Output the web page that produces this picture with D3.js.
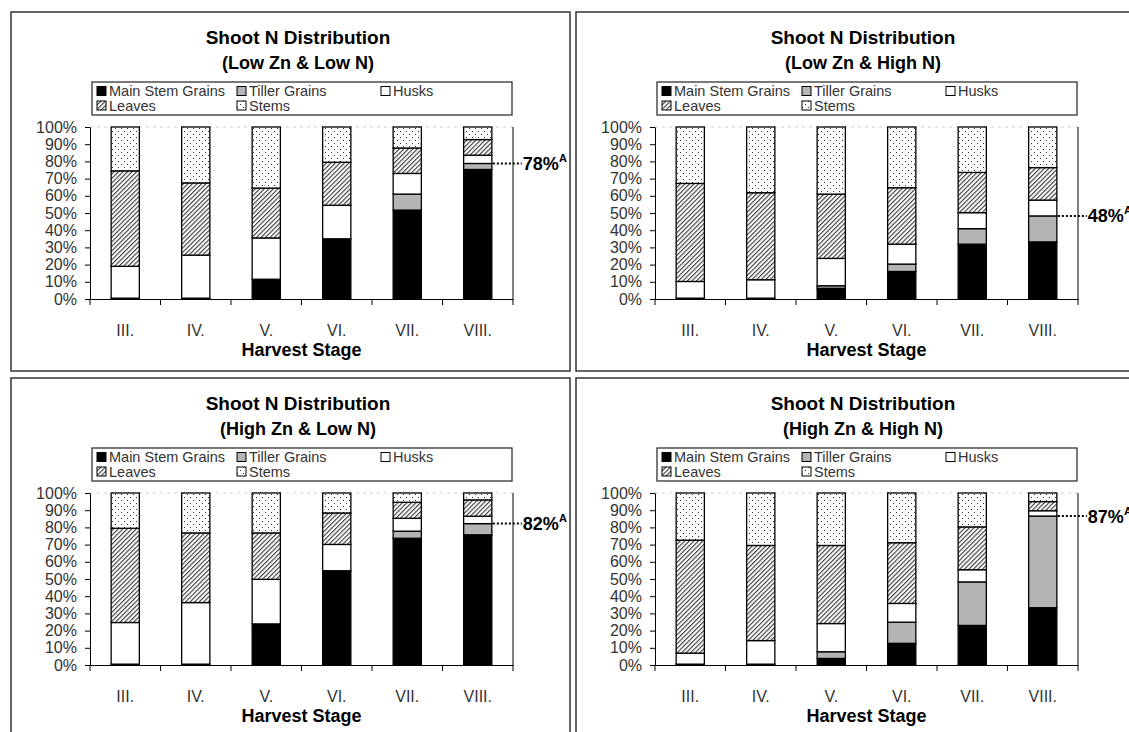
<!DOCTYPE html>
<html>
<head>
<meta charset="utf-8">
<script src="https://cdn.jsdelivr.net/npm/d3@7"></script>
<style>
  body { margin: 0; background: #fff; }
  svg { display: block; font-family: Arial, "Liberation Sans", sans-serif; }
</style>
</head>
<body>
<div id="chart"></div>
<script>
// harvest stages and plant parts (stack order, bottom to top)
var stages = ["III.", "IV.", "V.", "VI.", "VII.", "VIII."];
var parts = ["Main Stem Grains", "Tiller Grains", "Husks", "Leaves", "Stems"];
var yTickValues = [0, 10, 20, 30, 40, 50, 60, 70, 80, 90, 100];

// % of shoot N per stage: [main stem grains, tiller grains, husks, leaves, stems]
var lowZnLowN = [
    [0.5, 0, 18.5, 55.5, 25.5],
    [0.5, 0, 25, 42, 32.5],
    [11.5, 0, 24, 29, 35.5],
    [35, 0, 19.5, 25, 20.5],
    [51.7, 9.3, 12, 14.8, 12.2],
    [75.3, 3.5, 4.8, 9.1, 7.3]
];
var lowZnHighN = [
    [0.5, 0, 9.7, 57, 32.8],
    [0.5, 0, 10.7, 50.6, 38.2],
    [6.2, 1.5, 15.9, 37.4, 39],
    [16, 4.3, 11.6, 32.8, 35.3],
    [31.9, 9, 9.3, 23.4, 26.4],
    [33.2, 15.1, 9.2, 18.9, 23.6]
];
var highZnLowN = [
    [0.5, 0, 24.2, 54.8, 20.5],
    [0.5, 0, 35.8, 40.5, 23.2],
    [23.9, 0, 25.9, 27, 23.2],
    [54.8, 0, 15.3, 18.3, 11.6],
    [73.7, 4.1, 7.5, 9.3, 5.4],
    [75.7, 6.5, 4.3, 9.5, 4]
];
var highZnHighN = [
    [0.5, 0, 6.4, 65.7, 27.4],
    [0.5, 0, 13.7, 55.3, 30.5],
    [3.8, 3.9, 16.4, 45.4, 30.5],
    [12.6, 12.3, 10.9, 35.3, 28.9],
    [23, 25.3, 7.1, 24.9, 19.7],
    [33.3, 53.3, 3.1, 5.3, 5]
];

var panelSubtitles = ["(Low Zn & Low N)", "(Low Zn & High N)", "(High Zn & Low N)", "(High Zn & High N)"];
var grainLabels = ["78%", "48%", "82%", "87%"];
var panelData = [lowZnLowN, lowZnHighN, highZnLowN, highZnHighN];

var fills = ["#000", "#b4b4b4", "#fff", "url(#hatch)", "url(#dots)"];
var panelPos = [[11, 12], [576, 12], [11, 378], [576, 378]];

var svg = d3.select("#chart").append("svg")
    .attr("width", 1129)
    .attr("height", 732);

var defs = svg.append("defs");

var hatch = defs.append("pattern")
    .attr("id", "hatch")
    .attr("patternUnits", "userSpaceOnUse")
    .attr("width", 3.2)
    .attr("height", 10)
    .attr("patternTransform", "rotate(45)");
hatch.append("rect").attr("width", 3.2).attr("height", 10).attr("fill", "#fff");
hatch.append("line")
    .attr("x1", 0.6).attr("y1", 0).attr("x2", 0.6).attr("y2", 10)
    .attr("stroke", "#222").attr("stroke-width", 1);

var dots = defs.append("pattern")
    .attr("id", "dots")
    .attr("patternUnits", "userSpaceOnUse")
    .attr("width", 6)
    .attr("height", 6);
dots.append("rect").attr("width", 6).attr("height", 6).attr("fill", "#fff");
dots.append("rect").attr("x", 1).attr("y", 1).attr("width", 1).attr("height", 1).attr("fill", "#333");
dots.append("rect").attr("x", 4).attr("y", 4).attr("width", 1).attr("height", 1).attr("fill", "#333");

var margin = { left: 79, top: 115 },
    width = 423,
    height = 172;

var x = d3.scaleBand().domain(stages).range([0, width]).padding(0);
var y = d3.scaleLinear().domain([0, 100]).range([height, 0]);
var barW = x.bandwidth() * 0.4;

var stack = d3.stack().keys(d3.range(parts.length));

panelData.forEach(function(rows, pi) {
    var panel = svg.append("g")
        .attr("transform", "translate(" + panelPos[pi][0] + "," + panelPos[pi][1] + ")");

    panel.append("rect")
        .attr("width", 559)
        .attr("height", 359)
        .attr("fill", "none")
        .attr("stroke", "#333")
        .attr("stroke-width", 1.5);

    panel.append("text")
        .attr("x", 287)
        .attr("y", 32)
        .attr("text-anchor", "middle")
        .attr("font-size", 19)
        .attr("font-weight", "bold")
        .text("Shoot N Distribution");

    panel.append("text")
        .attr("x", 287)
        .attr("y", 57)
        .attr("text-anchor", "middle")
        .attr("font-size", 18)
        .attr("font-weight", "bold")
        .text(panelSubtitles[pi]);

    // legend
    var legend = panel.append("g").attr("transform", "translate(81,70)");
    legend.append("rect")
        .attr("width", 420)
        .attr("height", 33)
        .attr("fill", "#fff")
        .attr("stroke", "#333")
        .attr("stroke-width", 1.3);
    var colX = [5, 145, 289], rowY = [9, 23.5];
    var slots = [[0, 0], [1, 0], [2, 0], [0, 1], [1, 1]];
    parts.forEach(function(p, i) {
        var lx = colX[slots[i][0]], ly = rowY[slots[i][1]];
        legend.append("rect")
            .attr("x", lx).attr("y", ly - 4.5)
            .attr("width", 9).attr("height", 9)
            .attr("fill", fills[i])
            .attr("stroke", "#000")
            .attr("stroke-width", 1);
        legend.append("text")
            .attr("x", lx + 12)
            .attr("y", ly + 5)
            .attr("font-size", 14.5)
            .attr("fill", "#333")
            .text(p);
    });

    var g = panel.append("g").attr("transform", "translate(" + margin.left + "," + margin.top + ")");

    // plot area top and right edges
    g.append("line")
        .attr("x1", 0).attr("x2", width).attr("y1", 0).attr("y2", 0)
        .attr("stroke", "#ccc").attr("stroke-dasharray", "3,4");
    g.append("line")
        .attr("x1", width).attr("x2", width).attr("y1", 0).attr("y2", height)
        .attr("stroke", "#000");

    var series = stack(rows);
    series.forEach(function(s, si) {
        g.selectAll(".seg" + si)
         .data(s.filter(function(d) { return d[1] - d[0] > 0; }))
         .enter().append("rect")
         .attr("class", "seg" + si)
         .attr("x", function(d) { return x(stages[rows.indexOf(d.data)]) + (x.bandwidth() - barW) / 2; })
         .attr("y", function(d) { return y(d[1]); })
         .attr("width", barW)
         .attr("height", function(d) { return y(d[0]) - y(d[1]); })
         .attr("fill", fills[si])
         .attr("stroke", "#000")
         .attr("stroke-width", 1.3);
    });

    // y axis
    var yAxis = g.append("g")
        .call(d3.axisLeft(y).tickValues(yTickValues).tickFormat(function(d) { return d + "%"; })
            .tickSize(5).tickSizeOuter(0).tickPadding(8));
    yAxis.selectAll("text").attr("font-size", 16).attr("fill", "#333").attr("font-family", null);

    // x axis with ticks between categories
    var xAxis = g.append("g")
        .attr("transform", "translate(0," + height + ")")
        .call(d3.axisBottom(x).tickSize(0).tickSizeOuter(0));
    xAxis.selectAll("text")
        .attr("y", 26)
        .attr("font-size", 16)
        .attr("fill", "#333")
        .attr("font-family", null);
    xAxis.selectAll(".bound")
        .data(stages.concat(["end"]))
        .enter().append("line")
        .attr("class", "bound")
        .attr("x1", function(d) { return d === "end" ? width : x(d); })
        .attr("x2", function(d) { return d === "end" ? width : x(d); })
        .attr("y1", 0).attr("y2", 6)
        .attr("stroke", "#000");

    g.append("text")
        .attr("x", width / 2)
        .attr("y", 229)
        .attr("text-anchor", "middle")
        .attr("font-size", 18)
        .attr("font-weight", "bold")
        .text("Harvest Stage");

    // total grain share annotation at the last stage
    var last = rows[rows.length - 1];
    var yv = y(last[0] + last[1]);
    var barRight = x(stages[stages.length - 1]) + (x.bandwidth() + barW) / 2;
    g.append("line")
        .attr("x1", barRight + 1).attr("x2", barRight + 30)
        .attr("y1", yv).attr("y2", yv)
        .attr("stroke", "#000")
        .attr("stroke-width", 2)
        .attr("stroke-dasharray", "2,2");
    var ann = g.append("text")
        .attr("x", barRight + 31)
        .attr("y", yv + 6.5)
        .attr("font-size", 18)
        .attr("font-weight", "bold")
        .text(grainLabels[pi]);
    ann.append("tspan")
        .attr("dy", -8)
        .attr("font-size", 11)
        .text("A");
});
</script>
</body>
</html>
